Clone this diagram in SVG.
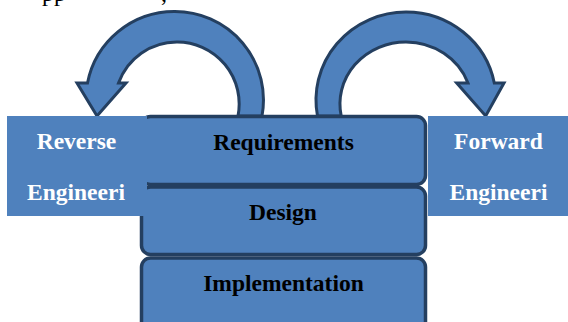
<svg xmlns="http://www.w3.org/2000/svg" width="568" height="322" viewBox="0 0 568 322">
  <style>
    .stage { fill: #4F81BD; stroke: #243F60; stroke-width: 3.5; }
    .turn { fill: #4F81BD; stroke: #243F60; stroke-width: 3; stroke-linejoin: miter; }
    .side { fill: #4F81BD; }
    .dark { font-family: "Liberation Serif", "Times New Roman", serif; font-weight: bold; font-size: 23.5px; fill: #000000; text-anchor: middle; }
    .light { font-family: "Liberation Serif", "Times New Roman", serif; font-weight: bold; font-size: 23.5px; fill: #FFFFFF; text-anchor: middle; }
    .caption { font-family: "Liberation Serif", "Times New Roman", serif; font-size: 24px; fill: #000000; }
  </style>

  <!-- tail of the caption line above -->
  <text class="caption" x="42" y="1">pp</text>
  <text class="caption" x="161" y="1">,</text>

  <!-- curved arrows from the requirements stage -->
  <g id="connectors">
    <path id="arrow-reverse" class="turn"
          d="M262,116 A88.5,88.5 0 0 0 174.5,11.5 A88.5,88.5 0 0 0 87.5,83 L77,83 L97,116 L126,83 L118.5,83 A62,62 0 0 1 177,42 A62,62 0 0 1 238,116 Z"/>
    <path id="arrow-forward" class="turn"
          d="M317.5,116 A90,88 0 0 1 406,12 A90,88 0 0 1 494.3,83 L504,83 L485.7,116 L456.7,83 L468,83 A66,62 0 0 0 406,42 A66,62 0 0 0 341.2,116 Z"/>
  </g>

  <!-- stacked development stages -->
  <g id="implementation">
    <rect class="stage" x="141.5" y="258" width="284" height="74" rx="9"/>
    <text class="dark" x="283.5" y="290.5">Implementation</text>
  </g>
  <g id="design">
    <rect class="stage" x="141.5" y="187" width="284" height="67.5" rx="9"/>
    <text class="dark" x="283" y="220">Design</text>
  </g>
  <g id="requirements">
    <rect class="stage" x="141.5" y="116.5" width="284" height="68" rx="9"/>
    <text class="dark" x="283.5" y="150">Requirements</text>
  </g>

  <!-- side labels -->
  <g id="reverse-engineering">
    <rect class="side" x="7" y="116" width="140" height="100"/>
    <text class="light" x="76.5" y="149">Reverse</text>
    <text class="light" x="76" y="200">Engineeri</text>
  </g>
  <g id="forward-engineering">
    <rect class="side" x="428" y="116" width="140" height="100"/>
    <text class="light" x="498.5" y="149">Forward</text>
    <text class="light" x="498.5" y="200">Engineeri</text>
  </g>
</svg>
